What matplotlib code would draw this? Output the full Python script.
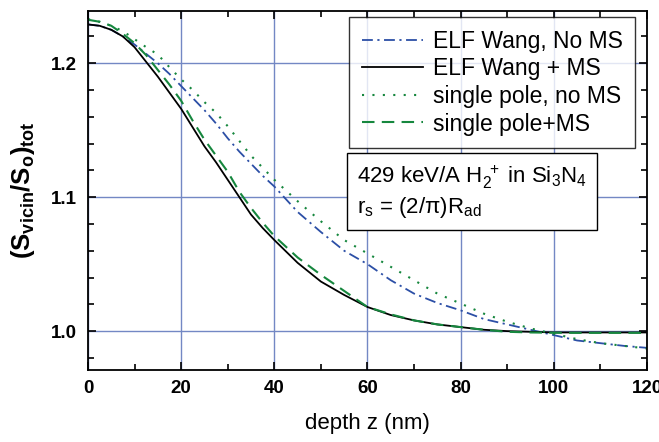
import numpy as np
import matplotlib
matplotlib.use("Agg")
import matplotlib.pyplot as plt
from matplotlib.ticker import MultipleLocator, FormatStrFormatter

plt.rcParams['font.family'] = ['Liberation Sans', 'DejaVu Sans']
plt.rcParams['mathtext.fontset'] = 'custom'
plt.rcParams['mathtext.rm'] = 'Liberation Sans'
plt.rcParams['mathtext.it'] = 'Liberation Sans'
plt.rcParams['mathtext.bf'] = 'Liberation Sans:bold'

# depth (nm)
depth = [0, 2.5, 5, 7.5, 10, 12.5, 15, 17.5, 20, 22.5, 25, 27.5, 30, 32.5,
         35, 37.5, 40, 45, 50, 55, 60, 65, 70, 75, 80, 85, 90, 95, 100,
         105, 110, 115, 120]

elf_no_ms = [1.229, 1.228, 1.225, 1.220, 1.214, 1.207, 1.200, 1.192, 1.183,
             1.174, 1.165, 1.155, 1.144, 1.134, 1.125, 1.116, 1.108,
             1.089, 1.074, 1.060, 1.050, 1.038, 1.028, 1.021, 1.0155, 1.009,
             1.005, 1.001, 0.997, 0.993, 0.991, 0.989, 0.9875]
elf_ms = [1.229, 1.228, 1.225, 1.220, 1.212, 1.201, 1.190, 1.178, 1.166,
          1.152, 1.138, 1.126, 1.113, 1.100, 1.087, 1.077, 1.068,
          1.051, 1.037, 1.027, 1.018, 1.012, 1.008, 1.005, 1.003, 1.001,
          1.000, 0.9995, 0.999, 0.999, 0.999, 0.999, 0.999]
sp_no_ms = [1.233, 1.231, 1.228, 1.224, 1.218, 1.212, 1.2065, 1.197, 1.188,
            1.180, 1.171, 1.163, 1.153, 1.142, 1.131, 1.122, 1.113,
            1.097, 1.082, 1.068, 1.058, 1.048, 1.038, 1.028, 1.0206, 1.013,
            1.007, 1.002, 0.998, 0.994, 0.991, 0.989, 0.987]
sp_ms = [1.2325, 1.231, 1.228, 1.222, 1.215, 1.206, 1.195, 1.184, 1.172,
         1.157, 1.143, 1.131, 1.119, 1.104, 1.092, 1.081, 1.071,
         1.055, 1.042, 1.030, 1.018, 1.0125, 1.008, 1.005, 1.003, 1.001,
         0.9995, 0.999, 0.9988, 0.9987, 0.9987, 0.9987, 0.9987]

blue = '#2c4fa6'
green = '#16873e'

fig = plt.figure(figsize=(6.59, 4.42), dpi=100)
ax = fig.add_axes([0.1335, 0.163, 0.8483, 0.812])

ax.plot(depth, elf_no_ms, color=blue, lw=1.3, dashes=[6, 2.5, 1.2, 2.5],
        label='ELF Wang, No MS')
ax.plot(depth, elf_ms, color='black', lw=1.3, label='ELF Wang + MS')
ax.plot(depth, sp_no_ms, color=green, lw=1.5, dashes=[1, 4],
        label='single pole, no MS')
ax.plot(depth, sp_ms, color=green, lw=1.5, dashes=[6, 3.5],
        label='single pole+MS')

ax.set_xlim(0, 120)
ax.set_ylim(0.971, 1.239)
ax.xaxis.set_major_locator(MultipleLocator(20))
ax.xaxis.set_minor_locator(MultipleLocator(10))
ax.yaxis.set_major_locator(MultipleLocator(0.1))
ax.yaxis.set_minor_locator(MultipleLocator(0.02))
ax.yaxis.set_major_formatter(FormatStrFormatter('%.1f'))

ax.grid(True, which='major', color='#7388c4', lw=1.0)
ax.set_axisbelow(True)

ax.tick_params(which='both', direction='in', top=True, right=True,
               width=1.2, labelsize=13.5)
ax.tick_params(axis='y', pad=8)
ax.tick_params(axis='x', pad=7)
ax.tick_params(which='major', length=6)
ax.tick_params(which='minor', length=4)
for lab in ax.get_xticklabels() + ax.get_yticklabels():
    lab.set_fontweight('bold')
for sp in ax.spines.values():
    sp.set_linewidth(1.3)

ax.set_xlabel('depth z (nm)', fontsize=16, labelpad=12)
ax.set_ylabel(r'$\mathbf{(S_{vicin}/S_{o})_{tot}}$', fontsize=18.5, labelpad=10)

leg = ax.legend(loc='upper right', bbox_to_anchor=(0.9786, 0.983), fontsize=16.5,
                frameon=True, fancybox=False, edgecolor='black',
                handlelength=2.7, handletextpad=0.4, labelspacing=0.2,
                borderpad=0.55, borderaxespad=0)
leg.get_frame().set_linewidth(1.0)

ax.text(0.481, 0.574, '429 keV/A H$_2^{\\ +}$ in Si$_3$N$_4$\nr$_s$ = (2/$\\pi$)R$_{ad}$',
        transform=ax.transAxes, fontsize=16, va='top', ha='left',
        linespacing=1.2,
        bbox=dict(boxstyle='square,pad=0.45', fc='white', ec='black', lw=1.0))

fig.savefig('out.png', dpi=100)
